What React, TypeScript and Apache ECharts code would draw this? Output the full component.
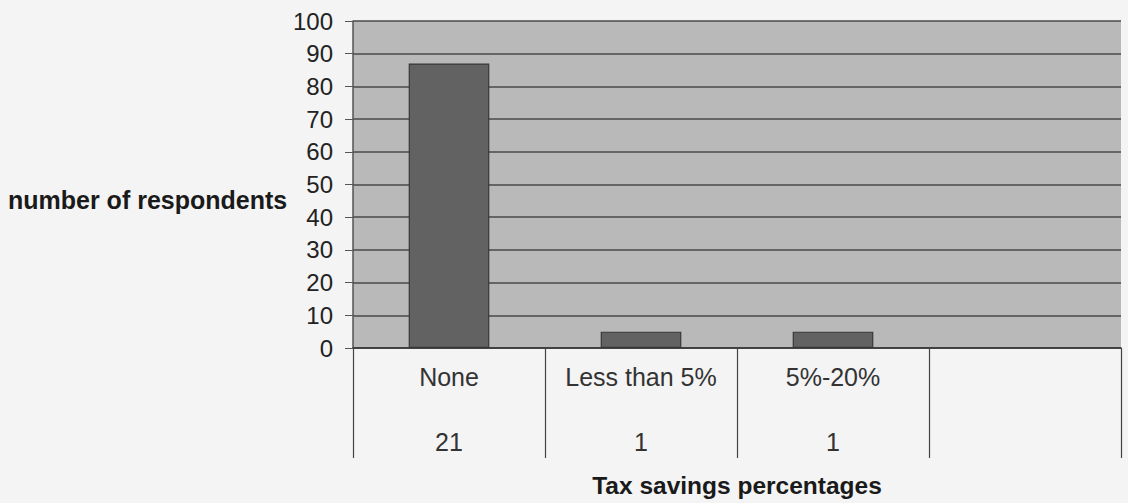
import React, { useEffect, useRef } from "react";
import * as echarts from "echarts";

// Categories of tax savings, with an empty fourth slot in the plot
const categories = ["None", "Less than 5%", "5%-20%", ""];
// Bar heights on the 0-100 scale
const barValues = [87, 5, 5, null];
// Respondent counts shown in the table row under the axis
const respondentCounts = [21, 1, 1, null];
// Value axis range
const yMin = 0;
const yMax = 100;
const yInterval = 10;

const FONT = "'Liberation Sans', Arial, sans-serif";

export default function App() {
  const ref = useRef<HTMLDivElement>(null);

  useEffect(() => {
    if (!ref.current) return;
    document.body.style.margin = "0";
    const chart = echarts.init(ref.current, null, { renderer: "svg" });
    chart.setOption({
      animation: false,
      backgroundColor: "#f4f4f4",
      textStyle: { fontFamily: FONT },
      grid: {
        left: 353,
        right: 7,
        top: 21,
        bottom: 155,
        show: true,
        backgroundColor: "#b9b9b9",
        borderWidth: 0,
      },
      graphic: [
        {
          type: "text",
          x: 8,
          y: 200,
          style: {
            text: "number of respondents",
            fontFamily: FONT,
            fontSize: 25,
            fontWeight: "bold",
            fill: "#1a1a1a",
            textVerticalAlign: "middle",
          },
        },
      ],
      xAxis: [
        {
          type: "category",
          data: categories,
          position: "bottom",
          boundaryGap: true,
          axisLine: { show: true, lineStyle: { color: "#333", width: 1.5 } },
          axisTick: {
            show: true,
            interval: 0,
            length: 110,
            alignWithLabel: false,
            lineStyle: { color: "#444", width: 1.2 },
          },
          axisLabel: {
            interval: 0,
            hideOverlap: false,
            margin: 16,
            fontSize: 25,
            color: "#333",
            fontFamily: FONT,
          },
          name: "Tax savings percentages",
          nameLocation: "middle",
          nameGap: 125,
          nameTextStyle: {
            fontSize: 24.5,
            fontWeight: "bold",
            color: "#1a1a1a",
            fontFamily: FONT,
          },
        },
        {
          type: "category",
          data: respondentCounts.map((v) => (v == null ? "" : String(v))),
          position: "bottom",
          boundaryGap: true,
          axisLine: { show: false },
          axisTick: { show: false },
          axisLabel: {
            interval: 0,
            hideOverlap: false,
            margin: 81,
            fontSize: 25,
            color: "#333",
            fontFamily: FONT,
          },
        },
      ],
      yAxis: {
        type: "value",
        min: yMin,
        max: yMax,
        interval: yInterval,
        axisLine: { show: true, lineStyle: { color: "#555", width: 1.5 } },
        axisTick: { show: true, length: 8, lineStyle: { color: "#555" } },
        axisLabel: {
          margin: 20,
          fontSize: 24,
          color: "#222",
          fontFamily: FONT,
        },
        splitLine: { show: true, lineStyle: { color: "#4a4a4a", width: 1.5 } },
      },
      series: [
        {
          type: "bar",
          data: barValues,
          xAxisIndex: 0,
          barWidth: "42%",
          itemStyle: {
            color: "#626262",
            borderColor: "#383838",
            borderWidth: 1.2,
          },
        },
      ],
    });
    return () => chart.dispose();
  }, []);

  return (
    <div
      ref={ref}
      style={{ position: "fixed", left: 0, top: 0, width: 1128, height: 503 }}
    />
  );
}
